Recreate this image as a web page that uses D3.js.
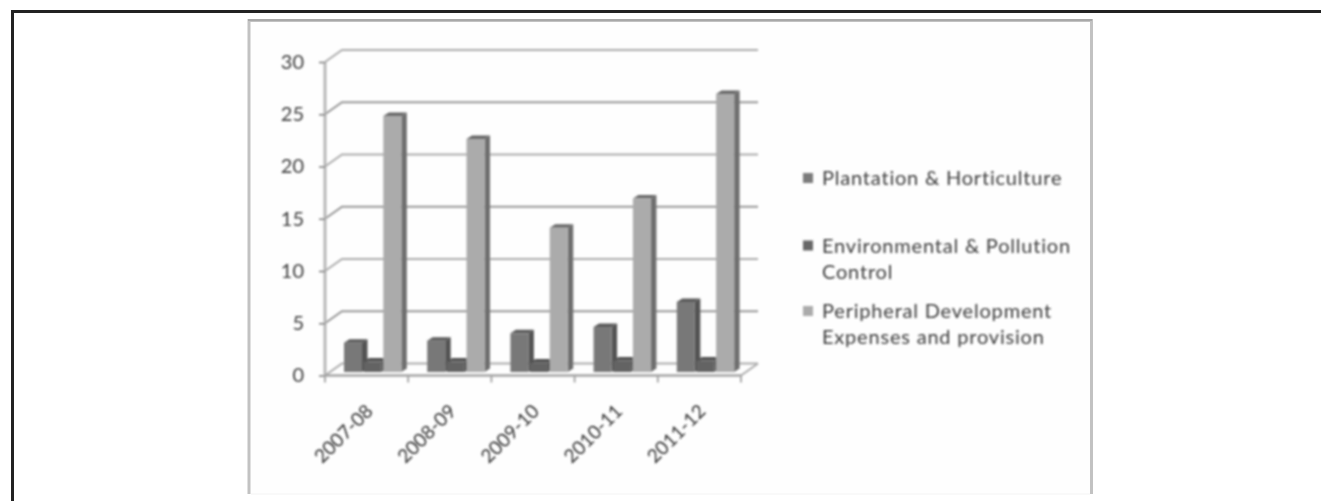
<!DOCTYPE html>
<html>
<head>
<meta charset="utf-8">
<script src="https://cdn.jsdelivr.net/npm/d3@7/dist/d3.min.js"></script>
<style>
  html, body { margin: 0; padding: 0; background: #fff; }
  svg { display: block; }
  text { font-family: Lato, "Open Sans", sans-serif; fill: #3c3c3c; }
</style>
</head>
<body>
<svg id="chart" width="1321" height="501"></svg>
<script>
// Chart content
const categories = ["2007-08", "2008-09", "2009-10", "2010-11", "2011-12"];
const seriesNames = ["Plantation & Horticulture", "Environmental & Pollution Control", "Peripheral Development Expenses and provision"];
const plantation = [2.8, 3.0, 3.7, 4.3, 6.7];
const environmental = [1.0, 1.0, 0.9, 1.1, 1.1];
const peripheral = [24.5, 22.3, 13.8, 16.6, 26.6];
const yTicks = [0, 5, 10, 15, 20, 25, 30];
const legendLines = [["Plantation & Horticulture"], ["Environmental & Pollution", "Control"], ["Peripheral Development", "Expenses and provision"]];

// Shades for each series: front face, side face, top face, legend key
const faces = [
  { front: "#787878", side: "#525252", top: "#5a5a5a", key: "#7c7c7c" },
  { front: "#636363", side: "#4c4c4c", top: "#505050", key: "#676767" },
  { front: "#ababab", side: "#6e6e6e", top: "#666666", key: "#ababab" }
];
const seriesValues = [plantation, environmental, peripheral];

const svg = d3.select("#chart");
const defs = svg.append("defs");
defs.append("filter").attr("id", "soft").attr("x", "-5%").attr("y", "-5%").attr("width", "110%").attr("height", "110%")
  .append("feGaussianBlur").attr("stdDeviation", 0.8);

// Page rules and chart frame
svg.append("path").attr("d", "M12.5,501V11.5H1321").attr("fill", "none").attr("stroke", "#222").attr("stroke-width", 3);
const frame = svg.append("g");
frame.append("rect").attr("x", 249).attr("y", 20).attr("width", 842).attr("height", 474)
  .attr("fill", "#fefefe").attr("stroke", "none");
frame.append("path").attr("d", "M249,494V20.5H1091.5V494").attr("fill", "none").attr("stroke", "#c2c2c2").attr("stroke-width", 3);
frame.append("path").attr("d", "M248,20H1092").attr("fill", "none").attr("stroke", "#a0a0a0").attr("stroke-width", 1.5);
frame.append("path").attr("d", "M251,494H1090").attr("fill", "none").attr("stroke", "#f4f4f4").attr("stroke-width", 1);

const plot = svg.append("g").attr("filter", "url(#soft)");

// Scales for the front plane; the back wall is the same plane shifted by depth
const x = d3.scaleBand().domain(categories).range([325, 741]);
const y = d3.scaleLinear().domain([0, 30]).range([375.5, 62]);
const depth = { dx: 17, dy: -12 };

// Back wall gridlines with their slanted links to the side wall
plot.append("g").selectAll("path").data(yTicks).join("path")
  .attr("d", d => `M325,${y(d)}L${325 + depth.dx},${y(d) + depth.dy}H758`)
  .attr("fill", "none").attr("stroke", (d, i) => i % 2 ? "#969696" : "#acacac").attr("stroke-width", 2);

// Floor front edge to back-right corner
plot.append("path").attr("d", `M741,${y(0)}L758,${y(0) + depth.dy}`)
  .attr("fill", "none").attr("stroke", "#acacac").attr("stroke-width", 2);

// Value axis
const yAxis = d3.axisLeft(y).tickValues(yTicks).tickSize(6).tickPadding(15).tickFormat(d3.format("d"));
const yG = plot.append("g").attr("transform", "translate(325,0)").call(yAxis);
yG.select(".domain").attr("stroke", "#b4b4b4").attr("stroke-width", 2.8).attr("d", `M0,${y(30)}V${y(0)}`);
yG.selectAll(".tick line").attr("stroke", "#808080").attr("stroke-width", 1.6);
yG.selectAll("text").attr("font-size", 20).attr("fill", "#3c3c3c").style("font-family", "Lato, sans-serif");

// Category axis: front edge, ticks at band boundaries, slanted labels
plot.append("path").attr("d", `M325,${y(0)}H741`).attr("stroke", "#a4a4a4").attr("stroke-width", 2.4).attr("fill", "none");
const edges = categories.map(c => x(c)).concat([x.range()[1]]);
plot.append("g").selectAll("line").data(edges).join("line")
  .attr("x1", d => d).attr("x2", d => d).attr("y1", y(0)).attr("y2", y(0) + 7)
  .attr("stroke", "#a0a0a0").attr("stroke-width", 1.8);
plot.append("g").selectAll("text").data(categories).join("text")
  .attr("text-anchor", "end")
  .attr("transform", d => `translate(${x(d) + 49},${y(0) + 37}) rotate(-45)`)
  .attr("font-size", 19)
  .attr("fill", "#303030")
  .style("fill", "#303030")
  .text(d => d);

// Clustered 3-D columns, drawn as three faces each
const inner = d3.scaleBand().domain(d3.range(seriesNames.length)).range([19, 78]).paddingInner(0);
const barW = 18;
const side = { dx: 5.5, dy: -3.5 };
const barBase = 3.5; // columns stand back from the front edge of the floor
seriesValues.forEach((vals, s) => {
  const g = plot.append("g");
  const cols = g.selectAll("g").data(vals.map((v, i) => ({ v, c: categories[i] }))).join("g");
  const left = d => x(d.c) + inner(s);
  const top = d => y(d.v) - barBase;
  const bot = y(0) - barBase;
  cols.append("path").attr("fill", faces[s].side)
    .attr("d", d => `M${left(d) + barW},${top(d)}l${side.dx},${side.dy}V${bot + side.dy}l${-side.dx},${-side.dy}Z`);
  cols.append("path").attr("fill", faces[s].top)
    .attr("d", d => `M${left(d)},${top(d)}l${side.dx},${side.dy}h${barW}l${-side.dx},${-side.dy}Z`);
  cols.append("rect").attr("fill", faces[s].front)
    .attr("x", left).attr("y", top).attr("width", barW).attr("height", d => bot - top(d));
});

// Legend
const legendY = [178, 245.5, 311];
const lineGap = 26;
const legend = plot.append("g").selectAll("g").data(legendLines).join("g")
  .attr("transform", (d, i) => `translate(803,${legendY[i]})`);
legend.append("rect").attr("x", 0).attr("y", -5).attr("width", 10).attr("height", 10)
  .attr("fill", (d, i) => faces[i].key);
legend.selectAll("text").data(d => d).join("text")
  .attr("x", 19).attr("y", (d, i) => i * lineGap).attr("dy", "0.35em")
  .attr("font-size", 20).attr("letter-spacing", 0.8)
  .text(d => d);
</script>
</body>
</html>
